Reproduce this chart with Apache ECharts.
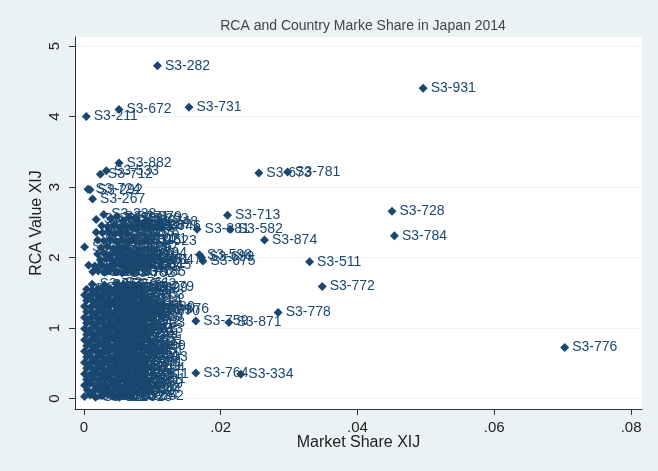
<!DOCTYPE html>
<html lang="en">
<head>
    <meta charset="UTF-8">
    <title>RCA and Country Marke Share in Japan 2014</title>
    <script src="https://cdn.jsdelivr.net/npm/echarts@6.0.0/dist/echarts.min.js"></script>
    <style>
        html, body { margin: 0; padding: 0; background: #eaf2f3; }
        #chart { width: 658px; height: 471px; }
    </style>
</head>
<body>
    <div id="chart"></div>
    <script>
        // tick values
        var xTicks = [0, 0.02, 0.04, 0.06, 0.08];
        var yTicks = [0, 1, 2, 3, 4, 5];

        // dense cluster, RCA below 1
        var lowShare = [
            .0001, .0009, .0017, .0026, .0035, .0043, .0052, .0061, .0069,
            .0005, .0013, .0022, .0030, .0039, .0048, .0056, .0065,
            .0001, .0009, .0017, .0026, .0034, .0043, .0051, .0060, .0068,
            .0004, .0013, .0022, .0030, .0039, .0047, .0056, .0064, .0072,
            .0001, .0009, .0018, .0026, .0035, .0043, .0052, .0060, .0078,
            .0004, .0013, .0021, .0030, .0039, .0047, .0056, .0064, .0071,
            .0001, .0009, .0017, .0026, .0034, .0043, .0051, .0060, .0068,
            .0004, .0012, .0021, .0030, .0038, .0047, .0055, .0064, .0075,
            .0001, .0009, .0018, .0026, .0035, .0043, .0052, .0060, .0069,
            .0004, .0013, .0021, .0030, .0038, .0047, .0055, .0064, .0072,
            .0001, .0009, .0017, .0026, .0034, .0043, .0051, .0060, .0069,
            .0004, .0013, .0021, .0030, .0039, .0047, .0056, .0064,
            .0001, .0009, .0018, .0026, .0035, .0043, .0052, .0060, .0068
        ];
        var lowRca = [
            .03, .05, .02, .04, .06, .03, .02, .05, .04,
            .12, .10, .13, .11, .09, .12, .10, .13,
            .19, .21, .18, .20, .17, .21, .19, .18, .20,
            .27, .28, .26, .29, .27, .25, .28, .26, .27,
            .35, .34, .36, .33, .35, .37, .34, .36, .35,
            .43, .42, .44, .41, .43, .45, .42, .44, .43,
            .51, .50, .52, .49, .51, .53, .50, .52, .51,
            .59, .58, .60, .57, .59, .61, .58, .60, .59,
            .67, .66, .68, .65, .67, .69, .66, .68, .67,
            .75, .74, .76, .73, .75, .77, .74, .76, .75,
            .83, .82, .84, .81, .83, .85, .82, .84, .83,
            .91, .90, .92, .89, .91, .93, .90, .92,
            .99, .98, 1.00, .97, .99, 1.01, .98, 1.00, .99
        ];
        var lowCode = [
            1, 11, 12, 16, 17, 22, 23, 24, 62,
            34, 35, 36, 37, 41, 42, 43, 44,
            45, 46, 47, 48, 54, 56, 57, 58, 59,
            61, 25, 71, 72, 73, 74, 75, 81, 91,
            98, 111, 112, 121, 122, 222, 223, 231, 611,
            244, 245, 246, 247, 248, 251, 261, 263, 264,
            265, 268, 269, 272, 273, 274, 277, 278, 281,
            283, 284, 285, 286, 287, 288, 289, 291, 793,
            322, 325, 333, 335, 342, 343, 344, 345, 351,
            411, 421, 422, 431, 512, 513, 514, 515, 699,
            522, 523, 524, 525, 531, 532, 541, 542, 551,
            553, 554, 562, 571, 572, 573, 574, 671,
            579, 581, 583, 591, 592, 593, 597, 612, 613
        ];

        // cluster, RCA between 1 and 1.7
        var midShare = [
            .0004, .0013, .0021, .0030, .0038, .0047, .0055, .0064, .0071,
            .0001, .0009, .0018, .0026, .0035, .0043, .0052, .0060, .0068,
            .0004, .0012, .0021, .0030, .0038, .0047, .0055, .0064, .0072, .0081, .0093, .0106,
            .0001, .0010, .0019, .0027, .0036, .0044, .0053, .0062, .0070, .0085,
            .0004, .0013, .0021, .0030, .0038, .0047, .0056, .0066,
            .0001, .0009, .0018, .0026, .0035, .0044, .0052, .0061, .0070,
            .0004, .0012, .0021, .0030, .0038, .0047, .0055, .0064, .0075, .0084,
            .0012, .0030, .0049, .0058
        ];
        var midRca = [
            1.07, 1.06, 1.08, 1.05, 1.07, 1.09, 1.06, 1.08, 1.07,
            1.15, 1.14, 1.16, 1.13, 1.15, 1.17, 1.14, 1.16, 1.15,
            1.23, 1.22, 1.24, 1.21, 1.23, 1.25, 1.22, 1.24, 1.23, 1.26, 1.24, 1.27,
            1.31, 1.30, 1.32, 1.29, 1.31, 1.33, 1.30, 1.32, 1.31, 1.30,
            1.39, 1.38, 1.40, 1.37, 1.39, 1.41, 1.38, 1.40,
            1.47, 1.46, 1.48, 1.45, 1.47, 1.49, 1.46, 1.48, 1.47,
            1.55, 1.54, 1.56, 1.53, 1.55, 1.57, 1.54, 1.56, 1.57, 1.58,
            1.62, 1.61, 1.63, 1.62
        ];
        var midCode = [
            621, 625, 629, 633, 634, 635, 641, 642, 723,
            651, 652, 653, 654, 655, 656, 657, 658, 659,
            661, 662, 663, 664, 665, 666, 667, 674, 677, 679, 870, 676,
            681, 682, 683, 684, 685, 686, 687, 689, 691, 880,
            692, 693, 694, 695, 696, 697, 711, 714,
            716, 718, 721, 722, 726, 727, 733, 735, 753,
            737, 741, 742, 743, 744, 745, 747, 749, 829, 779,
            751, 752, 761, 762
        ];

        // cluster, RCA between 1.7 and 2.7
        var upShare = [
            .0013, .0021, .0030, .0038, .0047, .0056, .0064, .0072,
            .0007, .0016, .0025, .0034, .0043, .0052, .0061, .0070, .0080,
            .0024, .0033, .0042, .0051, .0060, .0068, .0077, .0095,
            .0020, .0029, .0038, .0047, .0056, .0065, .0074,
            .0001, .0025, .0034, .0043, .0052, .0061,
            .0020, .0029, .0038, .0047, .0056, .0065, .0074, .0088,
            .0018, .0027, .0036, .0045, .0054, .0063,
            .0026, .0035, .0044, .0053, .0062, .0071, .0080, .0094,
            .0018, .0029, .0039, .0048, .0057, .0066, .0076, .0090
        ];
        var upRca = [
            1.80, 1.81, 1.79, 1.82, 1.80, 1.78, 1.81, 1.80,
            1.89, 1.88, 1.90, 1.87, 1.89, 1.91, 1.88, 1.90, 1.89,
            1.97, 1.98, 1.96, 1.99, 1.97, 1.98, 1.96, 1.97,
            2.05, 2.06, 2.04, 2.07, 2.05, 2.04, 2.06,
            2.15, 2.14, 2.16, 2.13, 2.15, 2.14,
            2.25, 2.24, 2.26, 2.23, 2.25, 2.24, 2.26, 2.23,
            2.36, 2.35, 2.37, 2.34, 2.36, 2.35,
            2.45, 2.44, 2.46, 2.43, 2.45, 2.44, 2.46, 2.44,
            2.54, 2.61, 2.55, 2.58, 2.52, 2.57, 2.55, 2.50
        ];
        var upCode = [
            763, 771, 773, 774, 775, 782, 783, 785,
            786, 791, 792, 811, 812, 813, 821, 831, 845,
            841, 842, 843, 844, 846, 848, 851, 847,
            872, 873, 883, 884, 885, 891, 794,
            892, 893, 894, 895, 896, 897,
            898, 899, 961, 971, 14, 15, 21, 623,
            39, 49, 52, 55, 63, 76,
            77, 82, 93, 99, 234, 236, 237, 746,
            725, 238, 262, 271, 292, 879, 293, 748
        ];

        // labelled outliers
        var outShare = [.01075, .00513, .00035, .01537, .0496, .00513, .00328, .0024, .02558, .02978,
            .0006, .0009, .00127, .021, .04505, .0454, .01655, .0214, .02641, .0169,
            .0172, .0174, .033, .03485, .0284, .01636, .0212, .01636, .02294, .0703];
        var outRca = [4.72, 4.10, 4.00, 4.13, 4.40, 3.34, 3.23, 3.18, 3.20, 3.215,
            2.97, 2.96, 2.83, 2.60, 2.655, 2.31, 2.40, 2.40, 2.25, 2.04,
            2.00, 1.95, 1.94, 1.59, 1.22, 1.10, 1.08, 0.364, 0.346, 0.726];
        var outCode = [282, 672, 211, 731, 931, 882, 533, 712, 673, 781,
            724, 292, 267, 713, 728, 784, 881, 582, 874, 598,
            699, 675, 511, 772, 778, 759, 871, 764, 334, 776];

        var navy = '#1a476f';

        function toData(sh, rc, cd) {
            return sh.map(function (v, i) { return [v, rc[i], cd[i]]; });
        }
        var points = toData(lowShare, lowRca, lowCode)
            .concat(toData(midShare, midRca, midCode))
            .concat(toData(upShare, upRca, upCode))
            .concat(toData(outShare, outRca, outCode));

        var chart = echarts.init(document.getElementById('chart'));
        chart.setOption({
            animation: false,
            backgroundColor: '#eaf2f3',
            textStyle: { fontFamily: 'Liberation Sans, Arial, sans-serif' },
            title: {
                text: 'RCA and Country Marke Share in Japan 2014',
                left: 358,
                textAlign: 'center',
                top: 14,
                textStyle: { fontSize: 14, fontWeight: 'normal', color: '#444' }
            },
            grid: {
                left: 75, right: 16, top: 37, bottom: 62,
                show: true, backgroundColor: '#ffffff', borderWidth: 0
            },
            xAxis: {
                type: 'value',
                min: -0.0013, max: 0.0816,
                name: 'Market Share XIJ',
                nameLocation: 'middle',
                nameGap: 26,
                nameMoveOverlap: false,
                nameTextStyle: { fontSize: 16, color: '#222', verticalAlign: 'top' },
                axisLine: { show: true, onZero: false, lineStyle: { color: '#333', width: 1 } },
                axisTick: { show: true, customValues: xTicks, length: 6, lineStyle: { color: '#333' } },
                axisLabel: {
                    customValues: xTicks, margin: 11, fontSize: 15, color: '#222',
                    formatter: function (v) { return v === 0 ? '0' : String(v).replace(/^0/, ''); }
                },
                splitLine: { show: false }
            },
            yAxis: {
                type: 'value',
                min: -0.148, max: 5.128,
                name: 'RCA Value XIJ',
                nameLocation: 'middle',
                nameGap: 30,
                nameMoveOverlap: false,
                nameTextStyle: { fontSize: 16, color: '#222' },
                axisLine: { show: true, onZero: false, lineStyle: { color: '#333', width: 1 } },
                axisTick: { show: true, customValues: yTicks, length: 6, lineStyle: { color: '#333' } },
                axisLabel: { customValues: yTicks, rotate: 90, margin: 13, fontSize: 15, color: '#222' },
                splitLine: { show: true, lineStyle: { color: '#eaf2f3', width: 1 } }
            },
            series: [{
                type: 'scatter',
                data: points,
                symbol: 'diamond',
                symbolSize: 9,
                itemStyle: { color: navy, opacity: 1 },
                label: {
                    show: true,
                    position: 'right',
                    distance: 3,
                    fontSize: 14,
                    color: navy,
                    formatter: function (p) { return 'S3-' + String(p.value[2]).padStart(3, '0'); }
                }
            }]
        });
    </script>
</body>
</html>
